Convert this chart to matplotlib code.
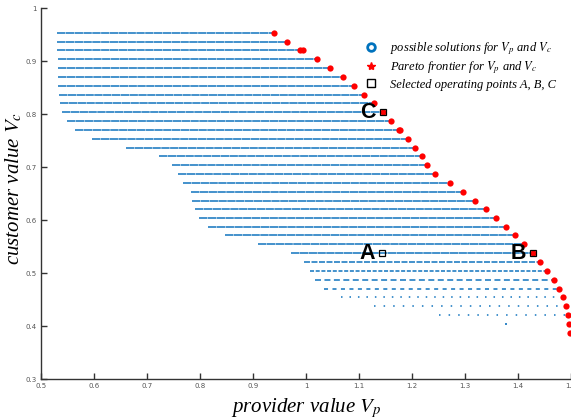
import numpy as np
import matplotlib
matplotlib.use('Agg')
import matplotlib.pyplot as plt
from matplotlib.lines import Line2D

plt.rcParams['mathtext.fontset'] = 'stix'
plt.rcParams['lines.scale_dashes'] = False

# rows of possible solutions (customer value levels)
row_y = [0.954, 0.937, 0.921, 0.904, 0.887, 0.871, 0.854, 0.837, 0.821, 0.804,
         0.787, 0.771, 0.754, 0.737, 0.721, 0.704, 0.688, 0.671, 0.654, 0.637,
         0.621, 0.604, 0.587, 0.571, 0.554, 0.537, 0.521, 0.504, 0.487, 0.470,
         0.454, 0.437, 0.420]
row_start = [0.531, 0.531, 0.531, 0.532, 0.533, 0.533, 0.533, 0.534, 0.536, 0.540,
             0.549, 0.565, 0.596, 0.660, 0.723, 0.747, 0.758, 0.767, 0.783, 0.785,
             0.791, 0.798, 0.815, 0.847, 0.909, 0.972, 0.996, 1.008, 1.017, 1.034,
             1.066, 1.129, 1.250]
row_end = [0.935, 0.962, 0.992, 1.019, 1.044, 1.067, 1.088, 1.107, 1.127, 1.143,
           1.158, 1.175, 1.191, 1.204, 1.216, 1.226, 1.242, 1.268, 1.294, 1.317,
           1.338, 1.357, 1.375, 1.393, 1.409, 1.426, 1.440, 1.453, 1.465, 1.475,
           1.483, 1.489, 1.493]
lone_x = [1.377]
lone_y = [0.404]

# pareto frontier
pareto_x = [0.939, 0.965, 0.989, 0.994, 1.021, 1.046, 1.069, 1.090, 1.109, 1.129,
            1.145, 1.160, 1.175, 1.177, 1.193, 1.206, 1.218, 1.228, 1.244, 1.271,
            1.296, 1.319, 1.340, 1.359, 1.377, 1.395, 1.411, 1.428, 1.442, 1.455,
            1.467, 1.477, 1.485, 1.491, 1.495, 1.497, 1.498]
pareto_y = [0.954, 0.937, 0.921, 0.921, 0.904, 0.887, 0.871, 0.854, 0.837, 0.821,
            0.804, 0.787, 0.771, 0.771, 0.754, 0.737, 0.721, 0.704, 0.688, 0.671,
            0.654, 0.637, 0.621, 0.604, 0.587, 0.571, 0.554, 0.537, 0.521, 0.504,
            0.487, 0.470, 0.454, 0.437, 0.420, 0.404, 0.387]

# selected operating points
op_x = [1.144, 1.428, 1.145]
op_y = [0.537, 0.537, 0.804]
op_labels = ['A', 'B', 'C']

blue = '#3589c8'
# dash look per row (on/off in points): dense rows on top, sparse at the bottom
dash_style = [(6.0, 0.35)] * 26 + [(4.3, 1.1), (2.9, 1.2), (4.3, 2.5), (2.9, 3.2),
                                   (1.1, 5.0), (1.1, 5.8), (1.1, 5.8)]

fig = plt.figure(figsize=(5.71, 4.19), dpi=100)
ax = fig.add_axes([41/571, 40/419, 530/571, 370.7/419])

for y, x0, x1, ds in zip(row_y, row_start, row_end, dash_style):
    ax.plot([x0, x1], [y, y], color=blue, lw=1.3, ls=(0, ds), solid_capstyle='butt',
            dash_capstyle='butt', zorder=1)
ax.plot(lone_x, lone_y, 's', color=blue, ms=1.5, mew=0, zorder=1)

ax.plot(pareto_x, pareto_y, 'o', color='red', ms=4.5, mew=0, zorder=3, clip_on=False)

ax.plot(op_x, op_y, 's', mfc='none', mec='black', mew=0.9, ms=5, zorder=4)
for x, y, t in zip(op_x, op_y, op_labels):
    ax.annotate(t, (x, y), xytext=(-5, 0), textcoords='offset points',
                ha='right', va='center', fontsize=15.5, fontweight='bold',
                family='Liberation Sans')

ax.set_xlim(0.5, 1.5)
ax.set_ylim(0.3, 1.0)
ax.set_xticks(np.arange(0.5, 1.51, 0.1))
ax.set_yticks(np.arange(0.3, 1.01, 0.1))
ax.set_xticklabels(['0.5', '0.6', '0.7', '0.8', '0.9', '1', '1.1', '1.2', '1.3', '1.4', '1.5'])
ax.set_yticklabels(['0.3', '0.4', '0.5', '0.6', '0.7', '0.8', '0.9', '1'])
ax.tick_params(direction='in', length=4, width=1, labelsize=5, labelcolor='#555555',
               color='#333333', pad=3)
for s in ['top', 'right']:
    ax.spines[s].set_visible(False)
for s in ['left', 'bottom']:
    ax.spines[s].set_linewidth(1)
    ax.spines[s].set_color('#333333')

ax.set_xlabel('provider value $V_p$', family='Liberation Serif', style='italic',
              fontsize=15, labelpad=5)
ax.set_ylabel('customer value $V_c$', family='Liberation Serif', style='italic',
              fontsize=15)
ax.yaxis.set_label_coords(-0.031, 0.513)

handles = [
    Line2D([], [], marker='o', ls='none', mfc='none', mec='#0072BD', mew=2, ms=5.5),
    Line2D([], [], marker='*', ls='none', color='red', ms=6),
    Line2D([], [], marker='s', ls='none', mfc='none', mec='black', mew=1, ms=6),
]
labels = ['possible solutions for $V_p$ and $V_c$',
          'Pareto frontier for $V_p$ and $V_c$',
          'Selected operating points A, B, C']
fig.legend(handles, labels, loc='upper left', bbox_to_anchor=(358/571, 1 - 34/419),
           frameon=False, prop={'family': 'Liberation Serif', 'style': 'italic', 'size': 9},
           handlelength=1.0, handletextpad=1.1, labelspacing=0.2, borderpad=0)

fig.savefig('out.png', dpi=100)
